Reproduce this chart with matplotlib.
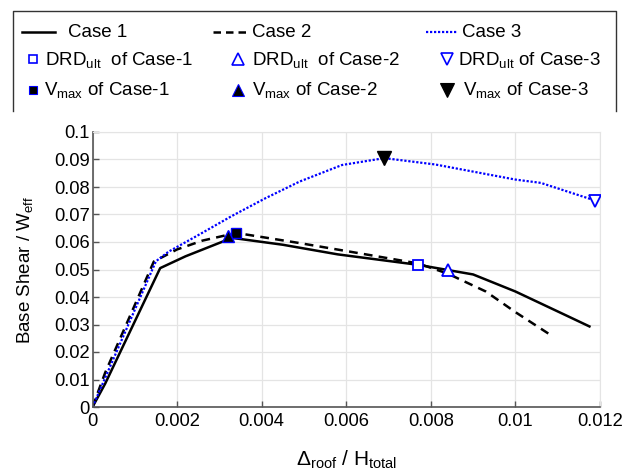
import numpy as np
import matplotlib
matplotlib.use("Agg")
import matplotlib.pyplot as plt
from matplotlib.ticker import FuncFormatter

plt.rcParams['font.family'] = ['Liberation Sans', 'DejaVu Sans']
plt.rcParams['mathtext.fontset'] = 'custom'
plt.rcParams['mathtext.rm'] = 'Liberation Sans'
plt.rcParams['mathtext.it'] = 'Liberation Sans:italic'

# pushover curves: roof drift ratio vs normalised base shear
case1_x = [0, 0.0003, 0.0016, 0.0022, 0.0033, 0.0045, 0.0058, 0.0077, 0.0090, 0.0100, 0.0112, 0.01175]
case1_y = [0, 0.0085, 0.0505, 0.0548, 0.0615, 0.0590, 0.0555, 0.0517, 0.0482, 0.0420, 0.0333, 0.0293]

case2_x = [0, 0.0003, 0.00145, 0.0020, 0.0026, 0.0034, 0.0049, 0.0065, 0.0077, 0.0084, 0.0093, 0.0100, 0.0109]
case2_y = [0, 0.0125, 0.0529, 0.0573, 0.0605, 0.0633, 0.0596, 0.0554, 0.0522, 0.0485, 0.0420, 0.0345, 0.0255]

case3_x = [0, 0.0015, 0.0018, 0.0025, 0.0033, 0.0041, 0.0049, 0.0059, 0.0069, 0.0081, 0.0100, 0.0106, 0.0112, 0.0119]
case3_y = [0, 0.0530, 0.0565, 0.0625, 0.0695, 0.0760, 0.0820, 0.0880, 0.0905, 0.0882, 0.0827, 0.0815, 0.0785, 0.0750]

# ultimate drift (DRD_ult) and peak shear (V_max) points for case 1, 2, 3
drd_x = [0.0077, 0.0084, 0.01189]
drd_y = [0.0517, 0.0498, 0.0750]
vmax_x = [0.0034, 0.0032, 0.0069]
vmax_y = [0.0633, 0.0621, 0.0905]

xticks = [0, 0.002, 0.004, 0.006, 0.008, 0.010, 0.012]
yticks = [0, 0.01, 0.02, 0.03, 0.04, 0.05, 0.06, 0.07, 0.08, 0.09, 0.1]

W, H = 629, 473
fig = plt.figure(figsize=(W / 100, H / 100), dpi=100)
ax = fig.add_axes([92.5 / W, 1 - 407 / H, 507.5 / W, 275 / H])

ax.plot(case1_x, case1_y, '-', color='black', lw=1.8)
ax.plot(case2_x, case2_y, '--', color='black', lw=1.8, dashes=(3.5, 2.5))
ax.plot(case3_x, case3_y, ':', color='blue', lw=1.6, dashes=(1, 0.8))

drd_markers = ['s', '^', 'v']
drd_sizes = [7, 9, 9]
vmax_markers = ['s', '^', 'v']
vmax_sizes = [6.5, 9, 9.5]
vmax_edges = ['blue', 'blue', 'black']
for i in range(3):
    ax.plot(drd_x[i], drd_y[i], drd_markers[i], ms=drd_sizes[i], mfc='white',
            mec='blue', mew=1.3, zorder=5)
    ax.plot(vmax_x[i], vmax_y[i], vmax_markers[i], ms=vmax_sizes[i], mfc='black',
            mec=vmax_edges[i], mew=1.0, zorder=5)

ax.set_xlim(0, 0.012)
ax.set_ylim(0, 0.1)
ax.set_xticks(xticks)
ax.set_yticks(yticks)
fmt = FuncFormatter(lambda v, pos: '{:g}'.format(round(v, 4)))
ax.xaxis.set_major_formatter(fmt)
ax.yaxis.set_major_formatter(fmt)
ax.grid(True, color='#e4e4e4', lw=0.9)
ax.set_axisbelow(True)
ax.tick_params(direction='in', length=4, width=1, color='#555555', labelsize=13.2)
ax.tick_params(axis='y', pad=2)
ax.tick_params(axis='x', pad=4)
for s in ['left', 'bottom']:
    ax.spines[s].set_color('#555555')
    ax.spines[s].set_linewidth(1.2)
for s in ['top', 'right']:
    ax.spines[s].set_color('#e4e4e4')

ax.set_xlabel(r'$\Delta_{\mathrm{roof}}$ / H$_{\mathrm{total}}$', fontsize=15, labelpad=14)
ax.set_ylabel(r'Base Shear / W$_{\mathrm{eff}}$', fontsize=13.5, labelpad=14)

# legend block drawn in pixel coordinates on an overlay axes
lg = fig.add_axes([0, 0, 1, 1])
lg.set_xlim(0, W)
lg.set_ylim(H, 0)
lg.axis('off')
lg.plot([13, 13, 616, 616], [111, 11, 11, 111], color='#333333', lw=1)

rows = [32, 59, 90]
base = [37, 65, 95]
lg.plot([22, 55], [rows[0]] * 2, '-', color='black', lw=1.8)
lg.plot([213, 250], [rows[0]] * 2, '--', color='black', lw=1.8, dashes=(3, 2))
lg.plot([426, 457], [rows[0]] * 2, ':', color='blue', lw=1.6, dashes=(1, 0.8))
lg.text(68, base[0], 'Case 1', fontsize=13.5)
lg.text(252, base[0], 'Case 2', fontsize=13.5)
lg.text(462, base[0], 'Case 3', fontsize=13.5)

col_mx = [33, 238, 447]
col_tx = [[45, 252, 458], [44, 252, 463]]
drd_gap = ['  ', '  ', ' ']
for i in range(3):
    lg.plot(col_mx[i], rows[1], drd_markers[i], ms=[5.5, 9, 9][i], mfc='white', mec='blue', mew=1.2)
    lg.plot(col_mx[i], rows[2], vmax_markers[i], ms=[6, 9, 9.5][i], mfc='black',
            mec=vmax_edges[i], mew=0.8)
    lg.text(col_tx[0][i], base[1], r'DRD$_{\mathrm{ult}}$' + drd_gap[i] + 'of Case-%d' % (i + 1),
            fontsize=13.5)
    lg.text(col_tx[1][i], base[2], r'V$_{\mathrm{max}}$ of Case-%d' % (i + 1), fontsize=13.5)

fig.savefig('out.png', dpi=100)
